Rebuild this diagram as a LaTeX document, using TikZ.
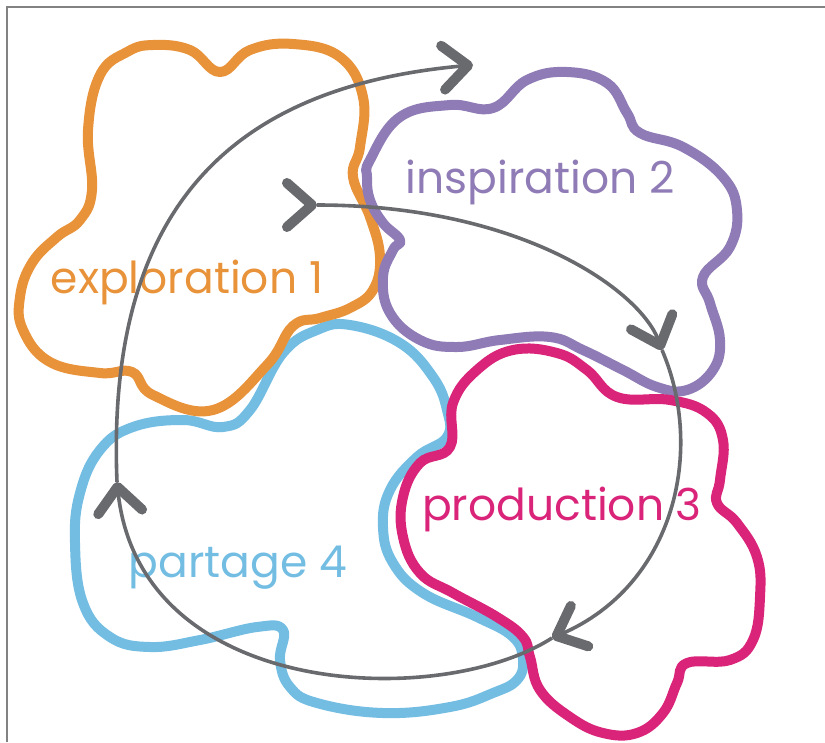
\documentclass[tikz,border=0pt]{standalone}
\usepackage{fontspec}
\setmainfont{Poppins}
\usetikzlibrary{arrows.meta}
\definecolor{cloudorange}{RGB}{232,146,58}
\definecolor{cloudpurple}{RGB}{143,123,181}
\definecolor{cloudpink}{RGB}{217,36,122}
\definecolor{cloudblue}{RGB}{115,189,227}
\definecolor{cyclegray}{RGB}{105,106,110}
\definecolor{framegray}{RGB}{130,130,130}

\begin{document}
\begin{tikzpicture}[x=1pt, y=-1pt,
    blob/.style={line width=10pt, line join=round},
    steptext/.style={anchor=base, font=\fontsize{44}{44}\selectfont},
    cycleline/.style={cyclegray, line width=3.6pt, -{Straight Barb[length=25pt, width=44pt, line width=10pt, round]}}]
  \useasboundingbox (0,0) rectangle (825,742);
  \draw[framegray, line width=1.2pt] (7,742) -- (7,7) -- (825,7);

  % Clouds
  \draw[blob, cloudblue] plot[smooth cycle, tension=0.7] coordinates {
    (223,427) (250,410) (283,353) (317,330) (350,325) (400,343) (433,377) (447,410) (447,437)
    (417,457) (390,490) (383,527) (393,563) (423,593) (477,617) (513,637) (523,660) (517,680)
    (493,693) (450,707) (383,713) (317,703) (290,687) (280,660) (283,630) (257,627) (200,640)
    (150,647) (110,637) (83,603) (75,543) (80,493) (100,450) (133,427) (183,420)};
  \draw[blob, cloudorange] plot[smooth cycle, tension=0.7] coordinates {
    (220,72) (250,50) (293,44) (340,57) (363,97) (360,147) (353,177) (370,217) (380,257)
    (373,290) (350,308) (320,318) (293,326) (267,365) (213,410) (153,395) (132,372) (100,373)
    (50,362) (23,330) (20,297) (32,263) (57,237) (80,220) (92,190) (88,130) (100,75) (127,52)
    (153,45) (190,50)};
  \draw[blob, cloudpurple] plot[smooth cycle, tension=0.7] coordinates {
    (370,160) (400,117) (450,105) (493,108) (527,80) (567,72) (607,83) (627,113) (640,133)
    (683,147) (723,177) (737,210) (730,247) (703,277) (710,303) (720,340) (713,370) (687,390)
    (657,387) (623,370) (583,350) (550,337) (500,340) (457,347) (420,340) (390,313) (383,277)
    (393,250) (400,240) (383,223) (370,200) (367,177)};
  \draw[blob, cloudpink] plot[smooth cycle, tension=0.7] coordinates {
    (450,447) (453,403) (477,370) (513,350) (557,353) (587,370) (617,397) (670,400) (707,413)
    (723,440) (720,480) (717,503) (737,523) (757,557) (760,597) (753,640) (730,660) (687,663)
    (677,683) (663,713) (637,733) (603,733) (570,717) (540,690) (530,657) (523,637) (497,617)
    (453,593) (420,573) (403,537) (403,497) (420,463)};

  % Labels
  \node[steptext, cloudorange] (explo) at (187,293) {exploration 1};
  \node[steptext, cloudpurple] (inspi) at (540,193) {inspiration 2};
  \node[steptext, cloudpink] (prod) at (562,520) {production 3};
  \node[steptext, cloudblue] (part) at (238,577) {partage 4};

  % Cycle
  \coordinate (start) at (317,205);
  \coordinate (down) at (662,350);
  \coordinate (downleft) at (552,638);
  \coordinate (up) at (117,482);
  \coordinate (end) at (473,65);
  \draw[cycleline] ([xshift=-1pt]start) -- (start);
  \draw[cycleline] (start) .. controls (520,205) and (640,290) .. (down);
  \draw[cycleline] (down) .. controls (705,450) and (675,585) .. (downleft);
  \draw[cycleline] (downleft) .. controls (440,710) and (140,700) .. (up);
  \draw[cycleline] (up) .. controls (105,190) and (250,85) .. (end);
\end{tikzpicture}
\end{document}
